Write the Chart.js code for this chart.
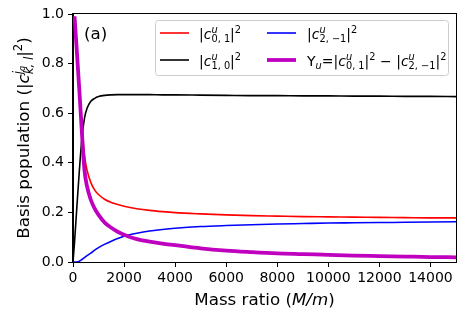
<!DOCTYPE html>
<html>
<head>
<meta charset="utf-8">
<script src="https://cdn.jsdelivr.net/npm/chart.js@4.4.1/dist/chart.umd.min.js"></script>
<style>
  html, body { margin: 0; padding: 0; background: #fff; }
  #wrap { width: 464px; height: 319px; }
</style>
</head>
<body>
<div id="wrap"><canvas id="popChart" width="464" height="319"></canvas></div>
<script>
// mass ratio M/m (shared x values)
const massRatio = [0, 60, 150, 250, 350, 450, 550, 700, 850, 1000, 1250, 1500, 1750, 2000, 2500,
    3000, 3500, 4000, 5000, 6000, 7000, 8000, 9000, 10000, 11000, 12000, 13000, 14000, 15000];

// |c^u_{0,1}|^2  (red)
const popC01 = [null, 0.99, 0.86, 0.70, 0.54, 0.43, 0.37, 0.32, 0.29, 0.272, 0.252, 0.24, 0.232, 0.225, 0.215,
    0.208, 0.203, 0.199, 0.194, 0.19, 0.187, 0.185, 0.183, 0.182, 0.181, 0.18, 0.179, 0.178, 0.178];

// |c^u_{1,0}|^2  (black)
const popC10 = [0, 0.08, 0.22, 0.37, 0.50, 0.58, 0.62, 0.648, 0.66, 0.667, 0.672, 0.674, 0.675, 0.675, 0.675,
    0.675, 0.674, 0.674, 0.673, 0.672, 0.671, 0.671, 0.670, 0.670, 0.669, 0.669, 0.668, 0.668, 0.667];

// |c^u_{2,-1}|^2  (blue)
const popC2m1 = [0, 0, 0, 0.003, 0.01, 0.018, 0.026, 0.036, 0.048, 0.058, 0.072, 0.084, 0.095, 0.104, 0.116,
    0.125, 0.131, 0.136, 0.143, 0.147, 0.150, 0.153, 0.155, 0.157, 0.158, 0.159, 0.160, 0.161, 0.162];

// Y_u = |c_{0,1}|^2 - |c_{2,-1}|^2  (magenta)
const upsilonU = [null, 0.99, 0.85, 0.69, 0.52, 0.37, 0.305, 0.25, 0.215, 0.19, 0.158, 0.138, 0.122, 0.11, 0.092,
    0.082, 0.074, 0.068, 0.055, 0.046, 0.040, 0.035, 0.032, 0.029, 0.026, 0.024, 0.022, 0.020, 0.019];

const xTicks = [0, 2000, 4000, 6000, 8000, 10000, 12000, 14000];
const yTicks = [0.0, 0.2, 0.4, 0.6, 0.8, 1.0];

const FONT = '"DejaVu Sans", "Liberation Sans", sans-serif';

function toPoints(values) {
    return massRatio.map((m, i) => ({ x: m, y: values[i] })).filter(p => p.y !== null);
}

// small mathtext-like renderer: {t, it} runs, {sup, sub} stacked scripts
function drawRich(ctx, parts, x, y, size, draw) {
    let cx = x;
    for (const p of parts) {
        if (typeof p.t === 'string') {
            ctx.font = (p.it ? 'italic ' : '') + size + 'px ' + FONT;
            if (draw) ctx.fillText(p.t, cx, y);
            cx += ctx.measureText(p.t).width;
        } else {
            const s = size * 0.7;
            let w = 0;
            if (p.sup) w = Math.max(w, drawRich(ctx, p.sup, cx, y - size * 0.42, s, draw));
            if (p.sub) w = Math.max(w, drawRich(ctx, p.sub, cx, y + size * 0.24, s, draw));
            cx += w;
        }
    }
    return cx - x;
}

const labelC01 = [{ t: '|' }, { t: 'c', it: true }, { sup: [{ t: 'u', it: true }], sub: [{ t: '0, 1' }] }, { t: '|' }, { sup: [{ t: '2' }] }];
const labelC10 = [{ t: '|' }, { t: 'c', it: true }, { sup: [{ t: 'u', it: true }], sub: [{ t: '1, 0' }] }, { t: '|' }, { sup: [{ t: '2' }] }];
const labelC2m1 = [{ t: '|' }, { t: 'c', it: true }, { sup: [{ t: 'u', it: true }], sub: [{ t: '2, \u22121' }] }, { t: '|' }, { sup: [{ t: '2' }] }];
const labelY = [{ t: '\u03A5' }, { sub: [{ t: 'u', it: true }] }, { t: '=|' }, { t: 'c', it: true },
    { sup: [{ t: 'u', it: true }], sub: [{ t: '0, 1' }] }, { t: '|' }, { sup: [{ t: '2' }] }, { t: ' \u2212 |' }, { t: 'c', it: true },
    { sup: [{ t: 'u', it: true }], sub: [{ t: '2, \u22121' }] }, { t: '|' }, { sup: [{ t: '2' }] }];

const yTitle = [{ t: 'Basis population (|' }, { t: 'c', it: true },
    { sup: [{ t: 'j', it: true }, { sub: [{ t: 'q', it: true }] }], sub: [{ t: 'k, l', it: true }] },
    { t: '|' }, { sup: [{ t: '2' }] }, { t: ')' }];
const xTitle = [{ t: 'Mass ratio (' }, { t: 'M/m', it: true }, { t: ')' }];

const decorations = {
    id: 'decorations',
    afterDatasetsDraw(chart) {
        const { ctx, chartArea: a } = chart;
        ctx.save();
        ctx.strokeStyle = '#000';
        ctx.lineWidth = 1;
        ctx.strokeRect(Math.round(a.left) - 0.5, Math.round(a.top) - 0.5, Math.round(a.right - a.left) + 1, Math.round(a.bottom - a.top) + 1);
        ctx.restore();
    },
    afterDraw(chart) {
        const { ctx, chartArea: a } = chart;
        ctx.save();
        ctx.fillStyle = '#000';
        ctx.textBaseline = 'alphabetic';
        ctx.textAlign = 'left';

        // panel tag
        ctx.font = '16.7px ' + FONT;
        ctx.fillText('(a)', 84, 39);

        // x title
        const cx = (a.left + a.right) / 2;
        const wx = drawRich(ctx, xTitle, 0, 0, 16.7, false);
        drawRich(ctx, xTitle, cx - wx / 2, 305, 16.7, true);

        // y title
        ctx.translate(29, (a.top + a.bottom) / 2);
        ctx.rotate(-Math.PI / 2);
        const wy = drawRich(ctx, yTitle, 0, 0, 16.7, false);
        drawRich(ctx, yTitle, -wy / 2, 0, 16.7, true);
        ctx.restore();

        // legend
        ctx.save();
        ctx.beginPath();
        ctx.roundRect(155.5, 20.5, 293, 55, 3);
        ctx.fillStyle = 'rgba(255,255,255,0.8)';
        ctx.fill();
        ctx.strokeStyle = '#cccccc';
        ctx.lineWidth = 1;
        ctx.stroke();

        const entries = [
            { ds: 0, label: labelC01, hx: 160, tx: 199, hy: 33, ty: 38.5 },
            { ds: 1, label: labelC10, hx: 160, tx: 199, hy: 60, ty: 65.5 },
            { ds: 2, label: labelC2m1, hx: 267, tx: 307, hy: 33, ty: 38.5 },
            { ds: 3, label: labelY, hx: 267, tx: 307, hy: 60, ty: 65.5 }
        ];
        entries.forEach(e => {
            const d = chart.data.datasets[e.ds];
            ctx.strokeStyle = d.borderColor;
            ctx.lineWidth = d.borderWidth;
            ctx.beginPath();
            ctx.moveTo(e.hx, e.hy);
            ctx.lineTo(e.hx + 29, e.hy);
            ctx.stroke();
            ctx.fillStyle = '#000';
            drawRich(ctx, e.label, e.tx, e.ty, 14, true);
        });
        ctx.restore();
    }
};

const axisFont = { family: FONT, size: 14 };

new Chart(document.getElementById('popChart').getContext('2d'), {
    type: 'line',
    data: {
        datasets: [
            { data: toPoints(popC01), borderColor: '#ff0000', borderWidth: 1.6, order: 3 },
            { data: toPoints(popC10), borderColor: '#000000', borderWidth: 1.6, order: 2 },
            { data: toPoints(popC2m1), borderColor: '#0000ff', borderWidth: 1.6, order: 1 },
            { data: toPoints(upsilonU), borderColor: '#bf00bf', borderWidth: 3.8, order: 0 }
        ]
    },
    options: {
        responsive: false,
        animation: false,
        layout: { padding: { top: 14, right: 8, left: 0, bottom: 0 } },
        elements: {
            point: { radius: 0 },
            line: { cubicInterpolationMode: 'monotone', fill: false }
        },
        plugins: {
            legend: { display: false },
            tooltip: { enabled: false }
        },
        scales: {
            x: {
                type: 'linear',
                min: 0,
                max: 15000,
                afterBuildTicks: s => { s.ticks = xTicks.map(v => ({ value: v })); },
                afterFit: s => { s.height = 57; },
                ticks: { color: '#000', font: axisFont, padding: 3, maxRotation: 0, autoSkip: false, callback: v => String(v) },
                grid: { drawOnChartArea: false, tickLength: 5, tickColor: '#000', tickWidth: 1 },
                border: { color: '#000', width: 1 }
            },
            y: {
                type: 'linear',
                min: 0,
                max: 1,
                afterBuildTicks: s => { s.ticks = yTicks.map(v => ({ value: v })); },
                afterFit: s => { s.width = 73; },
                ticks: { color: '#000', font: axisFont, padding: 4, autoSkip: false, callback: v => v.toFixed(1) },
                grid: { drawOnChartArea: false, tickLength: 5, tickColor: '#000', tickWidth: 1 },
                border: { color: '#000', width: 1 }
            }
        }
    },
    plugins: [decorations]
});
</script>
</body>
</html>
